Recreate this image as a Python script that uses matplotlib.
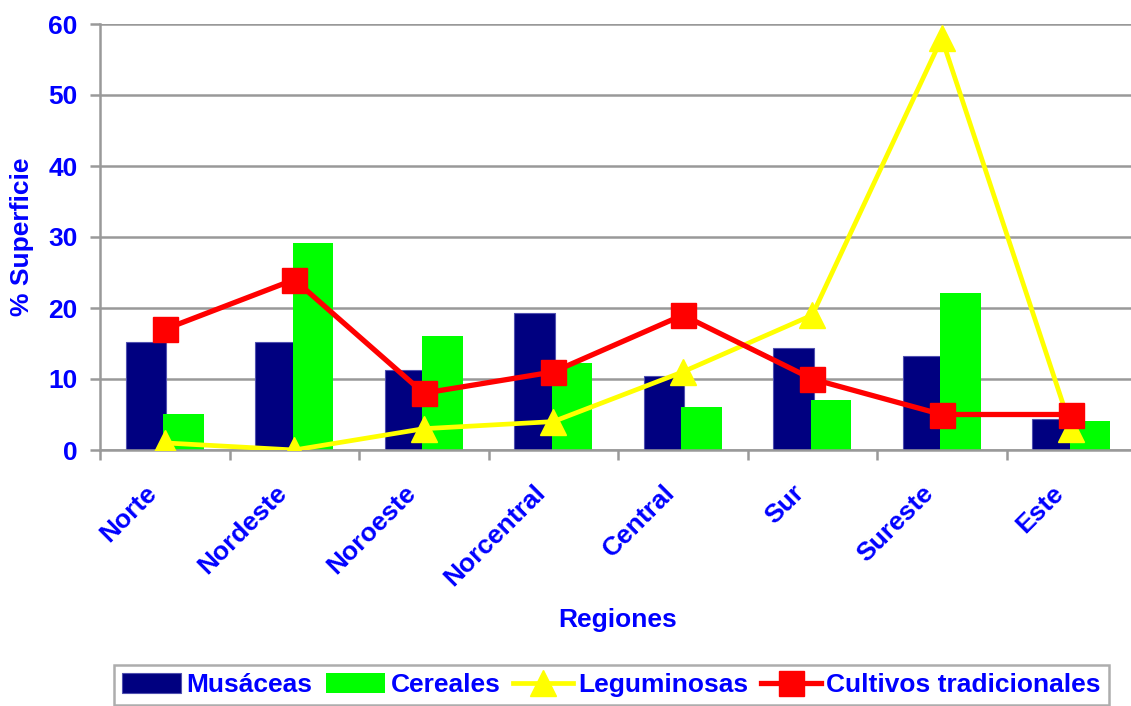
import matplotlib
matplotlib.use("Agg")
import matplotlib.pyplot as plt
import numpy as np
from matplotlib.ticker import FixedLocator
from matplotlib.transforms import ScaledTranslation

regiones = ["Norte", "Nordeste", "Noroeste", "Norcentral", "Central", "Sur", "Sureste", "Este"]
musaceas = [15.2, 15.2, 11.3, 19.3, 10.4, 14.3, 13.3, 4.3]
cereales = [5.1, 29.1, 16.1, 12.2, 6.1, 7.1, 22.1, 4.1]
leguminosas = [1, 0, 3, 4, 11, 19, 58, 3]
cultivos = [17, 24, 8, 11, 19, 10, 5, 5]

plt.rcParams['font.family'] = ['Liberation Sans', 'DejaVu Sans']
blue = "#0000FF"
gray = "#999999"
fs = 19

fig = plt.figure(figsize=(11.31, 7.06), dpi=100)
ax = fig.add_axes([100/1131, 1-450/706, 1036/1131, 426/706])

x = np.arange(len(regiones))
w = 0.31
h1 = ax.bar(x - 0.145, musaceas, w, color="#000080", edgecolor="#5050b0", linewidth=0.8, zorder=2, label="Musáceas")
h2 = ax.bar(x + 0.145, cereales, w, color="#00FF00", linewidth=0, zorder=2.1, label="Cereales")
h3, = ax.plot(x, leguminosas, color="#FFFF00", lw=3.4, marker="^", ms=19, zorder=3, label="Leguminosas")
h4, = ax.plot(x, cultivos, color="#FF0000", lw=3.8, marker="s", ms=18, zorder=4, label="Cultivos tradicionales")

ax.set_xlim(-0.5, len(regiones) - 0.5)
ax.set_ylim(0, 60)
ax.set_yticks(np.arange(0, 61, 10))
ax.yaxis.grid(True, color=gray, lw=1.8, zorder=0)
ax.set_axisbelow(True)
for s in ["top", "right"]:
    ax.spines[s].set_visible(False)
for s in ["left", "bottom"]:
    ax.spines[s].set_color(gray)
    ax.spines[s].set_linewidth(1.8)

ax.set_xticks(x)
ax.set_xticklabels(regiones, rotation=45, ha="right", va="top", rotation_mode="anchor",
                   color=blue, fontsize=fs, fontweight="bold")
ax.tick_params(axis="x", which="major", length=0, pad=12)
ax.xaxis.set_minor_locator(FixedLocator(np.arange(-0.5, len(regiones), 1.0)))
ax.tick_params(axis="x", which="minor", length=7, width=1.8, color=gray)
ax.tick_params(axis="y", length=7, width=1.8, color=gray, labelcolor=blue, labelsize=fs, pad=9)
for t in ax.get_yticklabels():
    t.set_fontweight("bold")
off = ScaledTranslation(-20/100, -14/100, fig.dpi_scale_trans)
for t in ax.get_xticklabels():
    t.set_transform(t.get_transform() + off)

fig.text(618/1131, 1-620/706, "Regiones", ha="center", va="center", color=blue, fontsize=fs, fontweight="bold")
fig.text(22/1131, 1-237/706, "% Superficie", ha="center", va="center", rotation=90, color=blue, fontsize=fs, fontweight="bold")

leg = fig.legend([h1, h2, h3, h4], ["Musáceas", "Cereales", "Leguminosas", "Cultivos tradicionales"],
                 loc="upper left", bbox_to_anchor=(114/1131, 1-665/706),
                 ncol=4, frameon=True, fancybox=False, edgecolor=gray, handlelength=2.25, handleheight=0.8,
                 borderaxespad=0, borderpad=0.3, columnspacing=0.5, handletextpad=0.2,
                 prop={"weight": "bold", "size": fs})
leg.get_frame().set_linewidth(1.8)
for t in leg.get_texts():
    t.set_color(blue)

fig.savefig("out.png", dpi=100)
